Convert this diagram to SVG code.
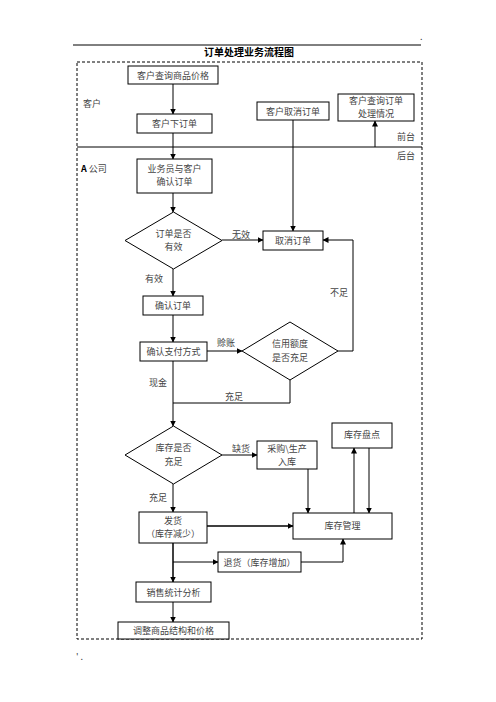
<svg xmlns="http://www.w3.org/2000/svg" width="496" height="702" viewBox="0 0 496 702">
<defs>
<marker id="arr" markerWidth="6" markerHeight="6" refX="5.5" refY="3" orient="auto" markerUnits="userSpaceOnUse">
<path d="M0,0 L6,3 L0,6 Z" fill="#000"/>
</marker>
<style>
.b{fill:#fff;stroke:#000;stroke-width:1}
.t{font-family:"Noto Sans CJK SC","Noto Sans",sans-serif;font-size:9px;fill:#444;text-anchor:middle}
.l{font-family:"Noto Sans CJK SC","Noto Sans",sans-serif;font-size:9px;fill:#444}
.c{fill:none;stroke:#000;stroke-width:1}
.a{marker-end:url(#arr)}
</style>
</defs>
<rect width="496" height="702" fill="#fff"/>
<line x1="73" y1="45" x2="421" y2="45" stroke="#000" stroke-width="1"/>
<text x="420" y="40" class="l" font-size="5" fill="#999">.</text>
<text x="249" y="56" class="t" style="font-weight:bold;font-size:10px;fill:#000">订单处理业务流程图</text>
<rect x="77" y="62" width="345" height="577" fill="none" stroke="#000" stroke-width="1" stroke-dasharray="3,2"/>
<line x1="77" y1="147" x2="422" y2="147" stroke="#000" stroke-width="1"/>
<text x="83" y="107" class="l">客户</text>
<text x="81" y="172" class="l"><tspan font-weight="bold" fill="#000">A</tspan> 公司</text>
<text x="397" y="140" class="l">前台</text>
<text x="397" y="159" class="l">后台</text>
<text x="76" y="660" class="l" font-size="6" fill="#999">' .</text>

<g id="connectors">
<line class="c a" x1="173" y1="84" x2="173" y2="114"/>
<line class="c a" x1="173" y1="133" x2="173" y2="159"/>
<line class="c a" x1="173" y1="193" x2="173" y2="212"/>
<line class="c a" x1="293" y1="120" x2="293" y2="231"/>
<line class="c a" x1="375" y1="147" x2="375" y2="121"/>
<line class="c a" x1="222" y1="240" x2="263" y2="240"/>
<line class="c a" x1="173" y1="269" x2="173" y2="296"/>
<line class="c a" x1="173" y1="315" x2="173" y2="342"/>
<line class="c a" x1="207" y1="351" x2="242" y2="351"/>
<polyline class="c a" points="338,351 353,351 353,240 323,240"/>
<line class="c a" x1="173" y1="361" x2="173" y2="426"/>
<polyline class="c" points="290,380 290,403 173,403"/>
<line class="c a" x1="222" y1="455" x2="257" y2="455"/>
<line class="c a" x1="173" y1="484" x2="173" y2="512"/>
<line class="c a" x1="308" y1="469" x2="308" y2="513"/>
<line class="c a" x1="354" y1="513" x2="354" y2="448"/>
<line class="c a" x1="369" y1="448" x2="369" y2="513"/>
<line class="c a" x1="207" y1="526" x2="293" y2="526" style="stroke-width:1.5"/>
<line class="c a" x1="173" y1="543" x2="173" y2="582" style="stroke-width:1.5"/>
<line class="c a" x1="173" y1="562" x2="218" y2="562"/>
<polyline class="c a" points="301,562 343,562 343,539"/>
<line class="c a" x1="173" y1="602" x2="173" y2="622"/>
<text x="232" y="238" class="l">无效</text>
<text x="145" y="282" class="l">有效</text>
<text x="217" y="346" class="l">赊账</text>
<text x="330" y="296" class="l">不足</text>
<text x="149" y="386" class="l">现金</text>
<text x="225" y="400" class="l">充足</text>
<text x="232" y="452" class="l">缺货</text>
<text x="149" y="501" class="l">充足</text>
</g>

<g id="n1"><rect class="b" x="128" y="66" width="90" height="18"/><text class="t" x="173" y="78.5">客户查询商品价格</text></g>
<g id="n2"><rect class="b" x="137" y="114" width="75" height="19"/><text class="t" x="174.5" y="127">客户下订单</text></g>
<g id="n3"><rect class="b" x="257" y="102" width="72" height="18"/><text class="t" x="293" y="114.5">客户取消订单</text></g>
<g id="n4"><rect class="b" x="338" y="94" width="76" height="27"/><text class="t" x="376" y="104">客户查询订单</text><text class="t" x="376" y="117">处理情况</text></g>
<g id="n5"><rect class="b" x="137" y="159" width="75" height="34"/><text class="t" x="174.5" y="172">业务员与客户</text><text class="t" x="174.5" y="185">确认订单</text></g>
<g id="n6"><polygon class="b" points="173.5,212 222,240.5 173.5,269 125,240.5"/><text class="t" x="173.5" y="237">订单是否</text><text class="t" x="173.5" y="250">有效</text></g>
<g id="n7"><rect class="b" x="263" y="231" width="60" height="19"/><text class="t" x="293" y="244">取消订单</text></g>
<g id="n8"><rect class="b" x="143" y="296" width="60" height="19"/><text class="t" x="173" y="309">确认订单</text></g>
<g id="n9"><rect class="b" x="140" y="342" width="67" height="19"/><text class="t" x="173.5" y="355">确认支付方式</text></g>
<g id="n10"><polygon class="b" points="290,322 338,351 290,380 242,351"/><text class="t" x="290" y="347">信用额度</text><text class="t" x="290" y="361">是否充足</text></g>
<g id="n11"><polygon class="b" points="173.5,426 222,455 173.5,484 125,455"/><text class="t" x="173.5" y="451">库存是否</text><text class="t" x="173.5" y="465">充足</text></g>
<g id="n12"><rect class="b" x="257" y="441" width="60" height="28"/><text class="t" x="287" y="452">采购\生产</text><text class="t" x="287" y="465">入库</text></g>
<g id="n13"><rect class="b" x="332" y="423" width="60" height="25"/><text class="t" x="362" y="438">库存盘点</text></g>
<g id="n14"><rect class="b" x="293" y="513" width="99" height="26"/><text class="t" x="342.5" y="529">库存管理</text></g>
<g id="n15"><rect class="b" x="139" y="512" width="68" height="31"/><text class="t" x="173" y="524">发货</text><text class="t" x="173" y="537">（库存减少）</text></g>
<g id="n16"><rect class="b" x="218" y="552" width="83" height="20"/><text class="t" x="259.5" y="565.5">退货（库存增加）</text></g>
<g id="n17"><rect class="b" x="136" y="582" width="75" height="20"/><text class="t" x="173.5" y="595.5">销售统计分析</text></g>
<g id="n18"><rect class="b" x="118" y="622" width="111" height="17"/><text class="t" x="173.5" y="634">调整商品结构和价格</text></g>
</svg>
